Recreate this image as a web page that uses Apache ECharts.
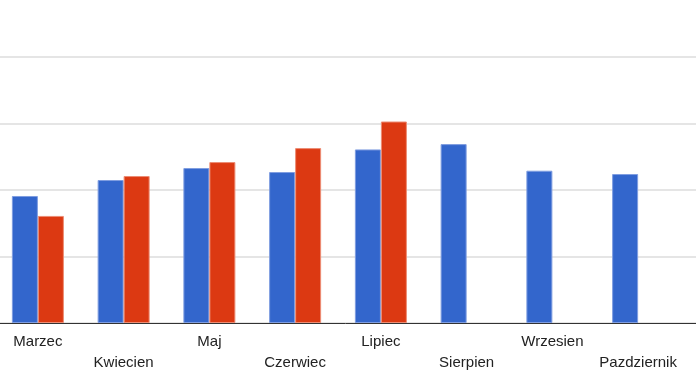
<!DOCTYPE html>
<html>
<head>
<meta charset="utf-8">
<script src="https://cdn.jsdelivr.net/npm/echarts@6/dist/echarts.min.js"></script>
<style>html,body{margin:0;padding:0;background:#fff;overflow:hidden}#c{position:absolute;left:-5px;top:0;width:701px;height:385px}</style>
</head>
<body>
<div id="c"></div>
<script>
const categories = ['Marzec','Kwiecien','Maj','Czerwiec','Lipiec','Sierpien','Wrzesien','Pazdziernik'];
const seriesBlue = [1.91, 2.15, 2.33, 2.27, 2.61, 2.69, 2.29, 2.24];
const seriesRed = [1.61, 2.21, 2.42, 2.63, 3.03, null, null, null];
const yMin = 0, yMax = 4, yStep = 1;

const chart = echarts.init(document.getElementById('c'), null, {renderer: 'canvas'});
chart.setOption({
  animation: false,
  backgroundColor: '#ffffff',
  grid: [
    {left: 0, right: 0, top: 57, bottom: 62, containLabel: false},
    {left: 0, right: 15, top: 57, bottom: 62, containLabel: false}
  ],
  xAxis: [
    {gridIndex: 0, type: 'value', min: 0, max: 1, z: 5,
     axisLine: {show: true, onZero: false, lineStyle: {color: '#333333', width: 1}},
     axisTick: {show: false}, axisLabel: {show: false}, splitLine: {show: false}},
    {gridIndex: 1, type: 'category', data: categories,
     axisLine: {show: false}, axisTick: {show: false},
     axisLabel: {interval: 0, margin: 8, color: '#222222', fontFamily: 'Liberation Sans, Arial, sans-serif',
       fontSize: 15, lineHeight: 21,
       formatter: function (v, i) { return i % 2 === 1 ? '\n' + v : v; }}}
  ],
  yAxis: [
    {gridIndex: 0, type: 'value', min: yMin, max: yMax, interval: yStep, z: 0,
     axisLine: {show: false}, axisTick: {show: false}, axisLabel: {show: false},
     splitLine: {show: true, lineStyle: {color: '#dddddd', width: 1.5}}},
    {gridIndex: 1, type: 'value', min: yMin, max: yMax, interval: yStep,
     axisLine: {show: false}, axisTick: {show: false}, axisLabel: {show: false},
     splitLine: {show: false}}
  ],
  series: [
    {type: 'bar', xAxisIndex: 1, yAxisIndex: 1, data: seriesBlue, barWidth: 26, barGap: '0%',
     itemStyle: {color: '#3366cc', borderColor: '#7f9de0', borderWidth: 1}},
    {type: 'bar', xAxisIndex: 1, yAxisIndex: 1, data: seriesRed, barWidth: 26, barGap: '0%',
     itemStyle: {color: '#dc3912', borderColor: '#ec8c74', borderWidth: 1}}
  ]
});
</script>
</body>
</html>
